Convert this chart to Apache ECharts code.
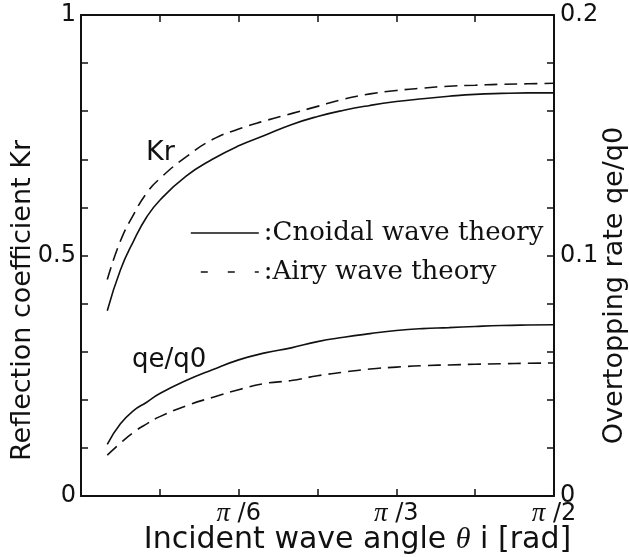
<!DOCTYPE html>
<html>
<head>
<meta charset="utf-8">
<script src="https://cdn.jsdelivr.net/npm/echarts@6/dist/echarts.min.js"></script>
<style>
  html, body { margin: 0; padding: 0; background: #fff; }
  #chart { width: 629px; height: 557px; }
</style>
</head>
<body>
<div id="chart"></div>
<script>
// Incident wave angle in degrees (axis labelled in radians: 30 = π/6, 60 = π/3, 90 = π/2)
const angleDeg = [5, 7.5, 10, 12.5, 15, 20, 25, 30, 35, 40, 45, 50, 55, 60, 65, 70, 75, 80, 85, 90];

// Reflection coefficient Kr (left axis)
const krCnoidal = [0.385, 0.47, 0.53, 0.58, 0.615, 0.665, 0.70, 0.728, 0.750, 0.772, 0.789, 0.802, 0.812, 0.820, 0.826, 0.831, 0.835, 0.837, 0.838, 0.838];
const krAiry    = [0.45, 0.53, 0.585, 0.63, 0.66, 0.705, 0.741, 0.763, 0.780, 0.795, 0.810, 0.825, 0.836, 0.843, 0.848, 0.852, 0.854, 0.856, 0.857, 0.858];

// Overtopping rate qe/q0 (right axis)
const qeCnoidal = [0.0215, 0.030, 0.0355, 0.039, 0.0426, 0.048, 0.0525, 0.0566, 0.0595, 0.0616, 0.0642, 0.066, 0.0675, 0.0688, 0.0696, 0.070, 0.0705, 0.0709, 0.0711, 0.0712];
const qeAiry    = [0.017, 0.022, 0.0265, 0.030, 0.033, 0.0375, 0.041, 0.0442, 0.0468, 0.048, 0.050, 0.0515, 0.0528, 0.0536, 0.0542, 0.0545, 0.0548, 0.055, 0.0552, 0.0553];

// Tick labels
const xTickLabels = { 30: '{pi|π} /6', 60: '{pi|π} /3', 90: '{pi|π} /2' };
const leftTickLabels = { 0: '0', 0.5: '0.5', 1: '1' };
const rightTickLabels = { 0: '0', 0.1: '0.1', 0.2: '0.2' };

const CNOIDAL = ':Cnoidal wave theory';
const AIRY = ':Airy wave theory';

const SANS = 'DejaVu Sans';
const SERIF = 'DejaVu Serif';
const INK = '#111';

function pairs(xs, ys) { return xs.map((x, i) => [x, ys[i]]); }
function pick(map, v) {
  const key = Object.keys(map).find(k => Math.abs(+k - v) < 1e-6);
  return key === undefined ? '' : map[key];
}

const axisLine = { show: true, onZero: false, lineStyle: { color: INK, width: 2 } };
const axisTick = { show: true, inside: true, length: 7, lineStyle: { color: INK, width: 1.5 } };

const chart = echarts.init(document.getElementById('chart'), null, { renderer: 'canvas' });

chart.setOption({
  backgroundColor: '#fff',
  animation: false,
  grid: { left: 81, right: 75, top: 15, bottom: 61, containLabel: false, outerBoundsMode: 'none' },
  legend: {
    orient: 'vertical',
    left: 190,
    top: 220,
    padding: 0,
    itemWidth: 68,
    itemHeight: 14,
    itemGap: 13,
    selectedMode: false,
    itemStyle: { opacity: 0, borderWidth: 0 },
    textStyle: { fontFamily: SERIF, fontSize: 26, color: INK },
    data: [
      { name: CNOIDAL, lineStyle: { type: 'solid', width: 1.6, opacity: 1 } },
      { name: AIRY, lineStyle: { type: [7, 20], dashOffset: 17, width: 1.6, opacity: 1 } }
    ]
  },
  xAxis: [
    {
      type: 'value', min: 0, max: 90, interval: 15,
      name: 'Incident wave angle {t|θ} i [rad]',
      nameLocation: 'middle', nameGap: 29, nameMoveOverlap: false,
      nameTextStyle: {
        fontFamily: SANS, fontSize: 30, color: INK, padding: [0, 0, 0, 80],
        rich: { t: { fontFamily: 'Liberation Serif', fontStyle: 'italic', fontSize: 30, color: INK } }
      },
      axisLine, axisTick, splitLine: { show: false },
      axisLabel: {
        margin: 4, fontFamily: SANS, fontSize: 24, color: INK,
        formatter: v => pick(xTickLabels, v),
        rich: { pi: { fontFamily: 'Liberation Serif', fontStyle: 'italic', fontSize: 27, color: INK } }
      }
    },
    {
      type: 'value', position: 'top', min: 0, max: 90, interval: 15,
      axisLine, axisTick, splitLine: { show: false }, axisLabel: { show: false }
    }
  ],
  yAxis: [
    {
      type: 'value', position: 'left', min: 0, max: 1, interval: 0.1,
      name: 'Reflection coefficient Kr',
      nameLocation: 'middle', nameGap: 45, nameRotate: 90, nameMoveOverlap: false,
      nameTextStyle: { fontFamily: SANS, fontSize: 27, color: INK, padding: [0, 90, 0, 0] },
      axisLine, axisTick, splitLine: { show: false },
      axisLabel: {
        margin: 5, fontFamily: SANS, fontSize: 24, color: INK,
        formatter: v => pick(leftTickLabels, v)
      }
    },
    {
      type: 'value', position: 'right', min: 0, max: 0.2, interval: 0.02,
      name: 'Overtopping rate qe/q0',
      nameLocation: 'middle', nameGap: 47, nameRotate: 90, nameMoveOverlap: false,
      nameTextStyle: { fontFamily: SANS, fontSize: 27, color: INK, padding: [0, 60, 0, 0] },
      axisLine, axisTick, splitLine: { show: false },
      axisLabel: {
        margin: 6, fontFamily: SANS, fontSize: 24, color: INK,
        formatter: v => pick(rightTickLabels, v)
      }
    }
  ],
  graphic: [
    { type: 'text', left: 146, top: 139, style: { text: 'Kr', fontFamily: SANS, fontSize: 27, fill: INK } },
    { type: 'text', left: 132, top: 347, style: { text: 'qe/q0', fontFamily: SANS, fontSize: 26, fill: INK } }
  ],
  series: [
    {
      name: CNOIDAL, type: 'line', xAxisIndex: 0, yAxisIndex: 0, smooth: true,
      symbol: 'none', data: pairs(angleDeg, krCnoidal),
      lineStyle: { color: INK, width: 1.6 }, itemStyle: { color: INK }
    },
    {
      name: AIRY, type: 'line', xAxisIndex: 0, yAxisIndex: 0, smooth: true,
      symbol: 'none', data: pairs(angleDeg, krAiry),
      lineStyle: { color: INK, width: 1.6, type: [13, 7] }, itemStyle: { color: INK }
    },
    {
      name: CNOIDAL, type: 'line', xAxisIndex: 0, yAxisIndex: 1, smooth: true,
      symbol: 'none', data: pairs(angleDeg, qeCnoidal),
      lineStyle: { color: INK, width: 1.6 }, itemStyle: { color: INK }
    },
    {
      name: AIRY, type: 'line', xAxisIndex: 0, yAxisIndex: 1, smooth: true,
      symbol: 'none', data: pairs(angleDeg, qeAiry),
      lineStyle: { color: INK, width: 1.6, type: [13, 7] }, itemStyle: { color: INK }
    }
  ]
});
</script>
</body>
</html>
